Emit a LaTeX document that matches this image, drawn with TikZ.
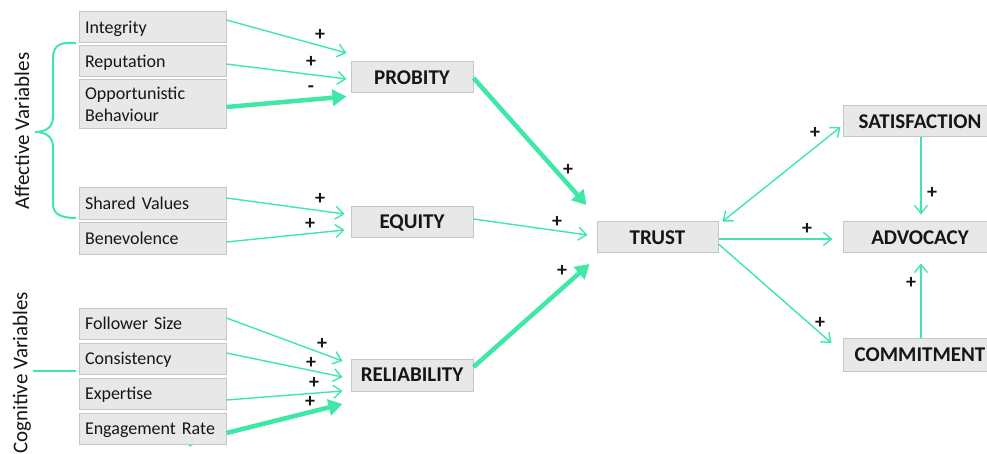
\documentclass[tikz,border=0pt]{standalone}
\usepackage{fontspec}
\setmainfont{Carlito}
\usetikzlibrary{arrows.meta,calc}
\definecolor{mint}{RGB}{64,232,168}
\definecolor{boxfill}{RGB}{232,232,232}
\definecolor{boxedge}{RGB}{198,198,198}
\definecolor{ink}{RGB}{22,22,22}

\begin{document}
\begin{tikzpicture}[x=1pt,y=-1pt,
  varbox/.style={draw=boxedge, line width=1pt, fill=boxfill, inner xsep=6pt, inner ysep=0pt,
    text width=135pt, align=left, minimum height=31pt, text height=11.6pt, text depth=0pt,
    font=\fontsize{18}{22}\selectfont, text=ink},
  conbox/.style={draw=boxedge, line width=1pt, fill=boxfill, inner sep=0pt,
    minimum width=122pt, minimum height=31pt, text height=13.5pt, text depth=0pt,
    font=\fontsize{21}{24}\selectfont\bfseries, text=ink},
  link/.style={draw=mint, line width=1.4pt, -{Straight Barb[length=8pt,width=13pt]}},
  duallink/.style={draw=mint, line width=1.4pt, {Straight Barb[length=8pt,width=13pt]}-{Straight Barb[length=8pt,width=13pt]}},
  strong/.style={draw=mint, line width=4.5pt, -{Triangle[length=14pt,width=16pt]}},
  sign/.style={font=\fontsize{20}{20}\selectfont\bfseries, text=ink, inner sep=0pt},
  grp/.style={font=\fontsize{21}{21}\selectfont, text=ink, rotate=90, inner sep=0pt},
  bracket/.style={draw=mint, line width=2pt}
]
\useasboundingbox (0,0) rectangle (987,454);
\fill[white] (0,0) rectangle (987,454);
\clip (0,0) rectangle (987,454);

% group labels and brackets
\node[grp] (affect) at (22,131) {Affective Variables};
\node[grp] (cognit) at (22,373) {Cognitive Variables};
\draw[bracket] (76,43) -- (68,43) .. controls (58,43) and (53,48) .. (53,58) -- (53,117)
  .. controls (53,127) and (46,132) .. (35,132)
  .. controls (46,132) and (53,137) .. (53,147) -- (53,204)
  .. controls (53,213) and (59,218) .. (76,218);
\draw[bracket] (33,371) -- (76,371);
\draw[bracket] (189,446) -- (197,442);

% antecedent variables
\node[varbox] (integ) at (152.5,27.5) {Integrity};
\node[varbox] (reput) at (152.5,61.5) {Reputation};
\node[varbox, minimum height=49pt, text depth=22pt] (oppo) at (152.5,104.5) {Opportunistic\\Behaviour};
\node[varbox, minimum height=32pt] (shared) at (152.5,204) {Shared Values};
\node[varbox, minimum height=32pt] (benev) at (152.5,239) {Benevolence};
\node[varbox] (follow) at (152.5,323.5) {Follower Size};
\node[varbox] (consist) at (152.5,358.5) {Consistency};
\node[varbox] (expert) at (152.5,393.5) {Expertise};
\node[varbox] (engage) at (152.5,428.5) {Engagement Rate};

% constructs
\node[conbox] (probity) at (412,77.5) {PROBITY};
\node[conbox] (equity) at (412,222) {EQUITY};
\node[conbox, minimum height=32pt] (reliab) at (412,375) {RELIABILITY};
\node[conbox, minimum width=121pt] (trust) at (657.5,237.5) {TRUST};
\node[conbox, minimum width=154pt] (satis) at (920,121.5) {SATISFACTION};
\node[conbox, minimum width=154pt] (advoc) at (920,237.5) {ADVOCACY};
\node[conbox, minimum width=154pt, minimum height=33pt] (commit) at (920,354.5) {COMMITMENT};

% paths into probity
\draw[link] ($(integ.east)+(0,-7.5)$) -- ($(probity.west)+(-4,-24.5)$);
\draw[link] ($(reput.east)+(0,2.5)$) -- ($(probity.west)+(-4,1.5)$);
\draw[strong] ($(oppo.east)+(0,2.5)$) -- ($(probity.west)+(-4,19)$);
% paths into equity
\draw[link] ($(shared.east)+(0,-6)$) -- ($(equity.west)+(-6,-8)$);
\draw[link] ($(benev.east)+(0,3)$) -- ($(equity.west)+(-6,8)$);
% paths into reliability
\draw[link] ($(follow.east)+(0,-5.5)$) -- ($(reliab.west)+(-8,-14)$);
\draw[link] ($(consist.east)+(0,-5.5)$) -- ($(reliab.west)+(-8,2)$);
\draw[link] ($(expert.east)+(0,6.5)$) -- ($(reliab.west)+(-8,16)$);
\draw[strong] ($(engage.east)+(0,4.5)$) -- ($(reliab.west)+(-8,29)$);
% paths into trust
\draw[strong] ($(probity.east)+(0,0.5)$) -- ($(trust.west)+(-10,-32.5)$);
\draw[link] ($(equity.east)+(0,-3)$) -- ($(trust.west)+(-9,-2.5)$);
\draw[strong] ($(reliab.east)+(0,-8)$) -- ($(trust.west)+(-7,26.5)$);
% outcomes
\draw[duallink] ($(trust.north east)+(4,0)$) -- ($(satis.west)+(-2,5.5)$);
\draw[link] ($(trust.east)+(0,1.5)$) -- ($(advoc.west)+(-10,1.5)$);
\draw[link] ($(trust.east)+(0,6.5)$) -- ($(commit.west)+(-11,-11.5)$);
\draw[link] ($(satis.south)+(1,0)$) -- ($(advoc.north)+(1,-7)$);
\draw[link] ($(commit.north)+(1,0)$) -- ($(advoc.south)+(1,10)$);

% signs
\node[sign] (s1) at (320,35) {+};
\node[sign] (s2) at (311,62) {+};
\node[sign] (s3) at (311,89) {-};
\node[sign] (s4) at (320,199) {+};
\node[sign] (s5) at (310,224) {+};
\node[sign] (s6) at (322,344) {+};
\node[sign] (s7) at (311,363) {+};
\node[sign] (s8) at (314,383) {+};
\node[sign] (s9) at (310,402) {+};
\node[sign] (s10) at (568,170) {+};
\node[sign] (s11) at (557,222) {+};
\node[sign] (s12) at (562,271) {+};
\node[sign] (s13) at (815,133) {+};
\node[sign] (s14) at (807,229) {+};
\node[sign] (s15) at (820,323) {+};
\node[sign] (s16) at (932,193) {+};
\node[sign] (s17) at (911,283) {+};
\end{tikzpicture}
\end{document}
